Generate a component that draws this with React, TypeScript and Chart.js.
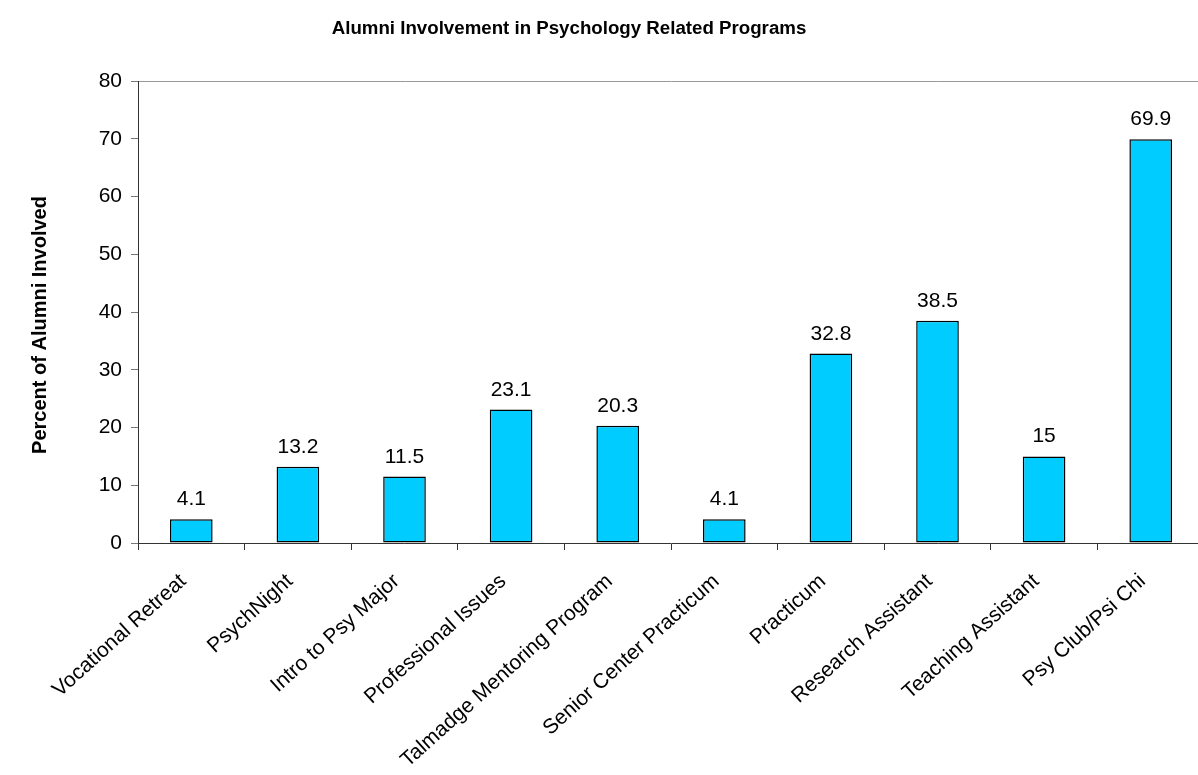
import React, { useEffect, useRef } from "react";
import { Chart, registerables } from "chart.js";

Chart.register(...registerables);

const chartTitle = "Alumni Involvement in Psychology Related Programs";
const yAxisTitle = "Percent of Alumni Involved";
const categories = [
  "Vocational Retreat",
  "PsychNight",
  "Intro to Psy Major",
  "Professional Issues",
  "Talmadge Mentoring Program",
  "Senior Center Practicum",
  "Practicum",
  "Research Assistant",
  "Teaching Assistant",
  "Psy Club/Psi Chi",
];
const percentInvolved = [4.1, 13.2, 11.5, 23.1, 20.3, 4.1, 32.8, 38.5, 15, 69.9];
const yMin = 0;
const yMax = 80;
const yStep = 10;

const FONT = "'Liberation Sans', Arial, sans-serif";

const titlePlugin = {
  id: "customTitle",
  afterDraw(chart: any) {
    const ctx = chart.ctx;
    ctx.save();
    ctx.fillStyle = "#000";
    ctx.textAlign = "center";
    ctx.textBaseline = "middle";
    ctx.font = `bold 18.7px ${FONT}`;
    ctx.fillText(chartTitle, 569, 29);
    // y axis title
    ctx.translate(40, 325);
    ctx.rotate(-Math.PI / 2);
    ctx.font = `bold 20px ${FONT}`;
    ctx.fillText(yAxisTitle, 0, 0);
    ctx.restore();
  },
};

const valueLabelPlugin = {
  id: "valueLabels",
  afterDatasetsDraw(chart: any) {
    const ctx = chart.ctx;
    const meta = chart.getDatasetMeta(0);
    const data = chart.data.datasets[0].data as number[];
    ctx.save();
    ctx.font = `21px ${FONT}`;
    ctx.fillStyle = "#000";
    ctx.textAlign = "center";
    ctx.textBaseline = "alphabetic";
    meta.data.forEach((bar: any, i: number) => {
      ctx.fillText(String(data[i]), bar.x, bar.y - 14);
    });
    ctx.restore();
  },
};

export default function App() {
  const canvasRef = useRef<HTMLCanvasElement | null>(null);

  useEffect(() => {
    if (!canvasRef.current) return;
    const chart = new Chart(canvasRef.current, {
      type: "bar",
      data: {
        labels: categories,
        datasets: [
          {
            data: percentInvolved,
            backgroundColor: "#00CCFF",
            borderColor: "#000000",
            borderWidth: 1.5,
            borderSkipped: false,
            barPercentage: 0.4,
            categoryPercentage: 1,
          },
        ],
      },
      options: {
        responsive: false,
        animation: false,
        layout: { padding: { top: 81, left: 0, right: 6, bottom: 0 } },
        plugins: {
          legend: { display: false },
          tooltip: { enabled: false },
          title: { display: false },
        },
        scales: {
          x: {
            afterFit: (s: any) => {
              s.height = 775 - 543;
            },
            grid: {
              offset: true,
              drawOnChartArea: false,
              drawTicks: true,
              tickLength: 7,
              tickColor: "#333",
            },
            border: { display: true, color: "#333", width: 1 },
            ticks: {
              autoSkip: false,
              minRotation: 42,
              maxRotation: 42,
              padding: 19,
              labelOffset: -8,
              color: "#000",
              font: { family: FONT, size: 21 },
            },
          },
          y: {
            min: yMin,
            max: yMax,
            afterFit: (s: any) => {
              s.width = 138;
            },
            ticks: {
              stepSize: yStep,
              padding: 9,
              color: "#000",
              font: { family: FONT, size: 21 },
            },
            grid: {
              drawOnChartArea: true,
              drawTicks: true,
              tickLength: 7,
              tickColor: "#777",
              color: (c: any) => (c.tick && c.tick.value === yMax ? "#999" : "rgba(0,0,0,0)"),
            },
            border: { display: true, color: "#333", width: 1 },
          },
        },
      },
      plugins: [titlePlugin, valueLabelPlugin],
    });
    return () => chart.destroy();
  }, []);

  return (
    <div
      style={{
        position: "fixed",
        left: 0,
        top: 0,
        width: 1198,
        height: 775,
        overflow: "hidden",
        background: "#fff",
      }}
    >
      <canvas ref={canvasRef} width={1210} height={775} style={{ display: "block" }} />
    </div>
  );
}
